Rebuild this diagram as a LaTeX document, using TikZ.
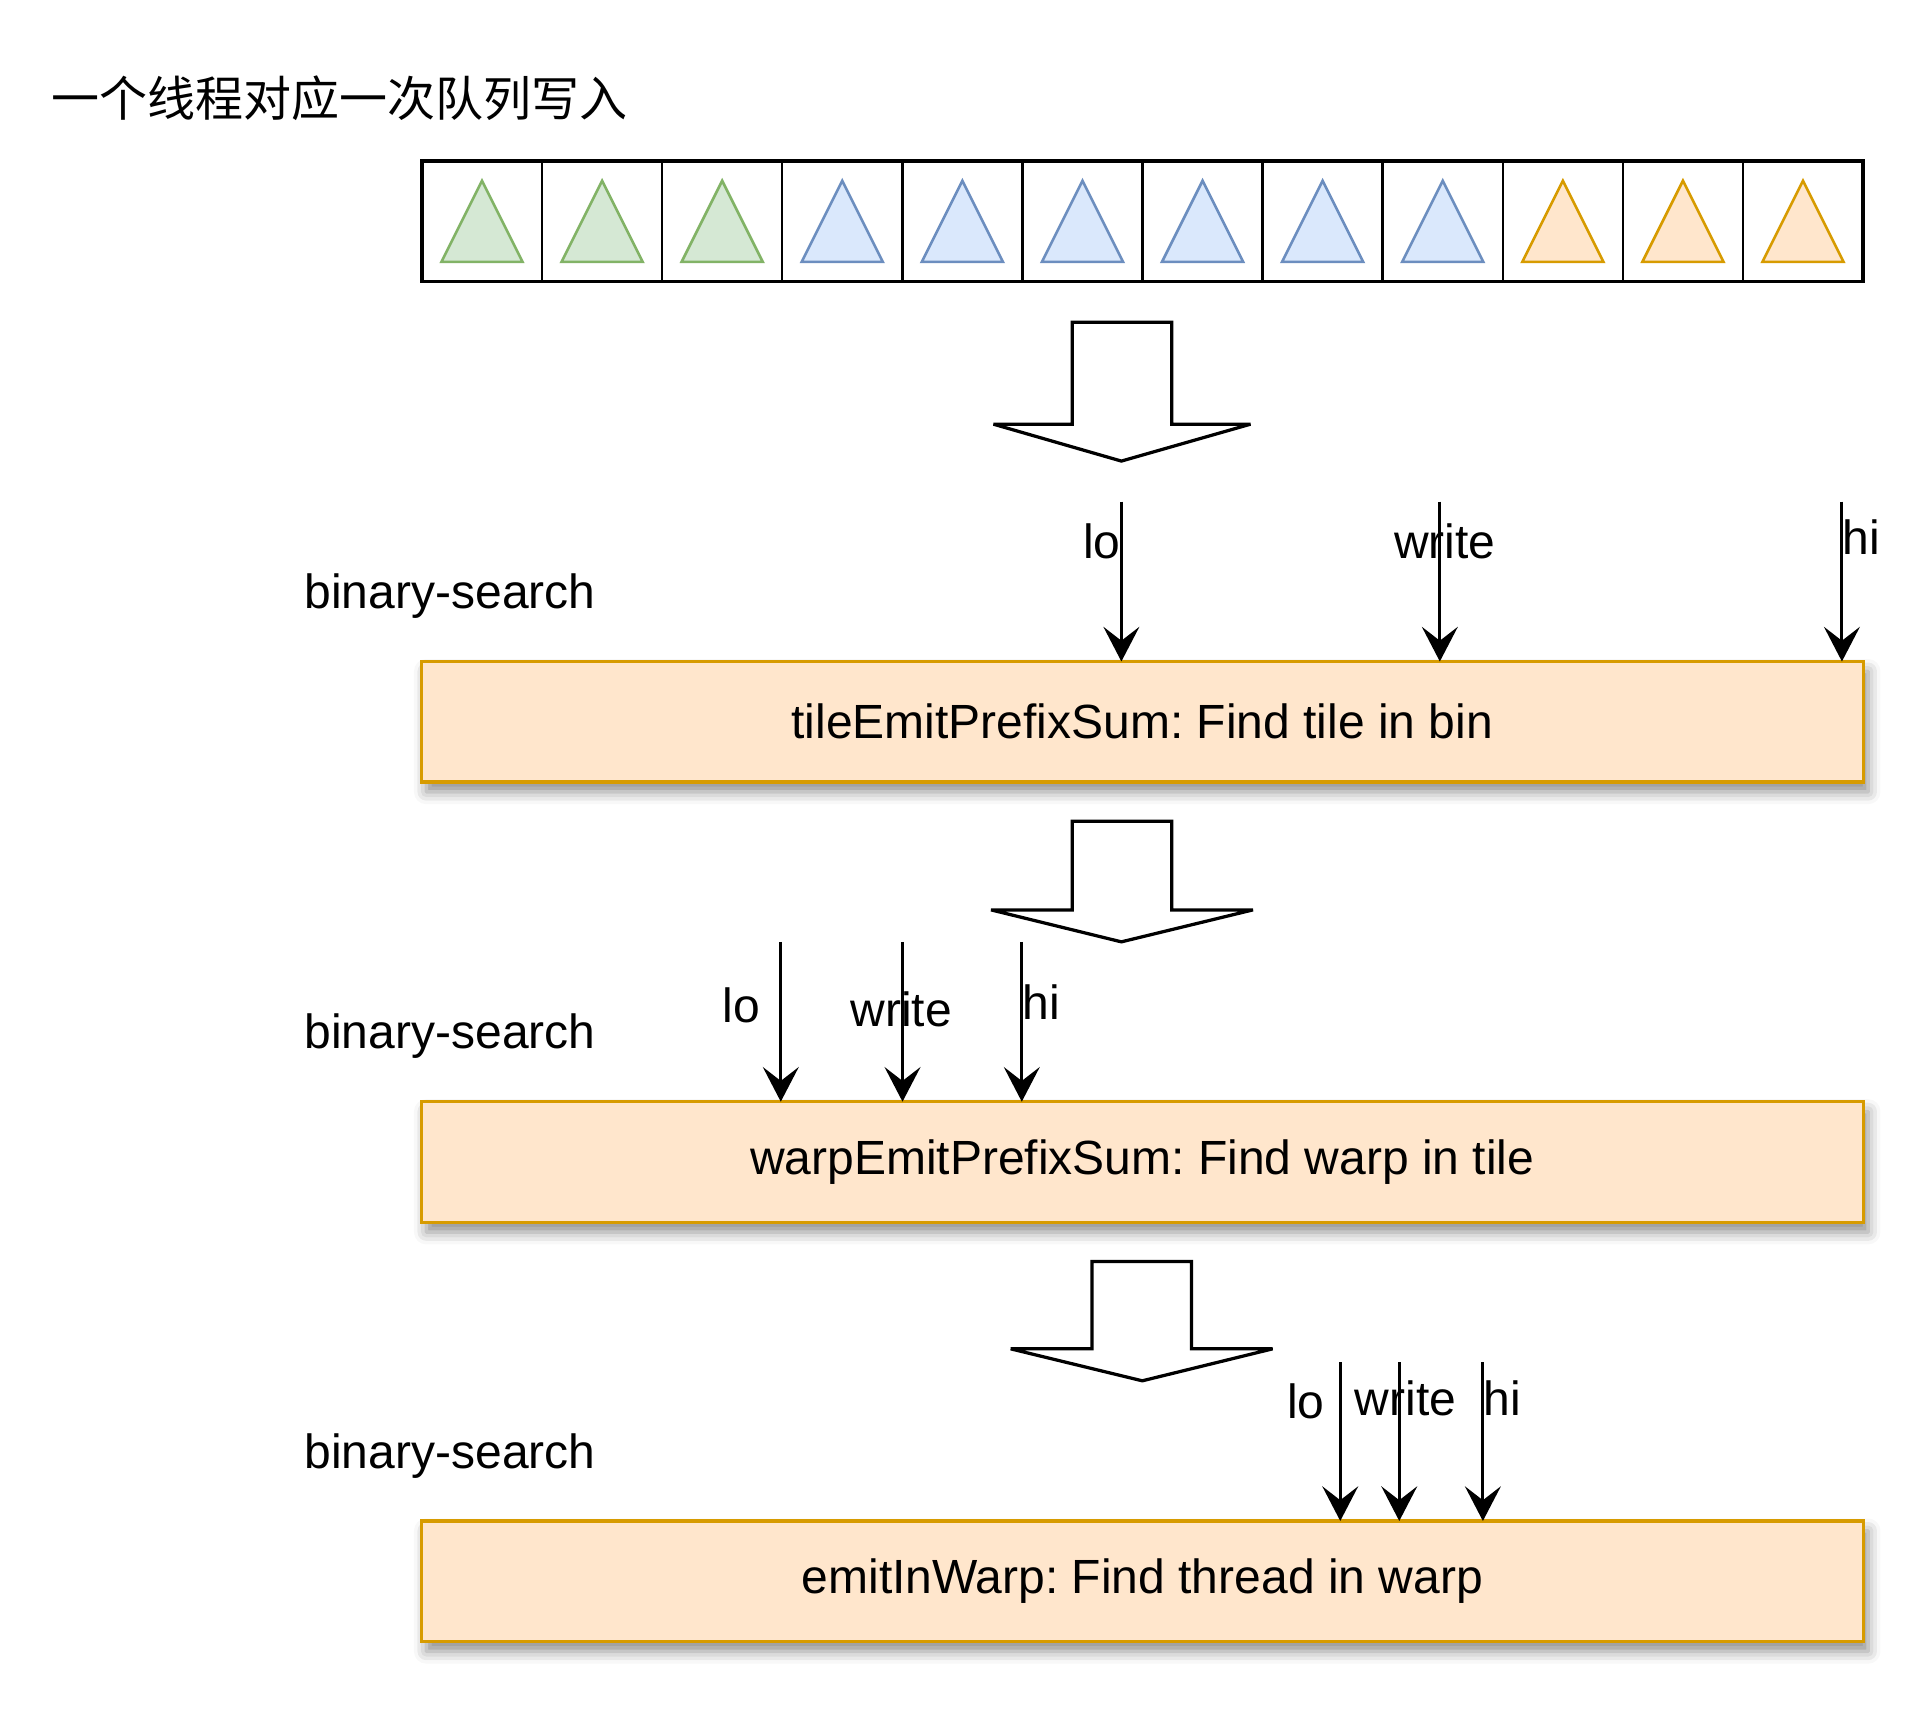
\documentclass[tikz,border=0pt]{standalone}
\usepackage{fontspec}
\setmainfont{Liberation Sans}
\newfontfamily\cjkfont{Noto Sans CJK SC}
\usepackage{tikz}
\usetikzlibrary{arrows.meta,positioning,shadows.blur}
\frenchspacing

\definecolor{greenstroke}{HTML}{82B366}
\definecolor{greenfill}{HTML}{D5E8D4}
\definecolor{bluestroke}{HTML}{6C8EBF}
\definecolor{bluefill}{HTML}{DAE8FC}
\definecolor{orangestroke}{HTML}{D79B00}
\definecolor{orangefill}{HTML}{FFE6CC}

\begin{document}
\begin{tikzpicture}
	[x=0.01cm,y=-0.01cm,>={Stealth[length=8pt,width=8.3pt,inset=3.2pt]},
	every node/.style={font=\fontsize{11.1pt}{13pt}\selectfont},
	cell/.style={draw,line width=0.55pt,inner sep=0pt,outer sep=0pt,minimum width=0.9767cm,minimum height=0.98cm},
	stage/.style={draw=orangestroke,fill=orangefill,line width=0.75pt,inner sep=0pt,outer sep=0pt,
		minimum width=11.72cm,minimum height=0.98cm,
		blur shadow={shadow xshift=0.04cm,shadow yshift=-0.08cm,shadow blur radius=0.1cm,shadow opacity=45}},
	hollow/.style={draw,fill=white,line width=0.75pt,line join=miter,miter limit=3},
	ptr/.style={->,line width=0.7pt}]

	\useasboundingbox (0,0) rectangle (1568,1392);

	\node [font=\cjkfont\fontsize{11.1pt}{13pt}\selectfont] (title) at (276,80) {一个线程对应一次队列写入};

	% queue of writes
	\foreach \col [count=\i from 0] in {green,green,green,blue,blue,blue,blue,blue,blue,orange,orange,orange} {
		\node [cell] (c\i) at ({392+97.67*\i},180) {};
		\draw [draw=\col stroke,fill=\col fill,line width=0.6pt] (c\i.center) ++(0,-33) -- ++(33,66) -- ++(-66,0) -- cycle;
	}
	\draw [line width=0.85pt] (c0.north west) rectangle (c11.south east);

	\draw [hollow] (872,262) -- (953,262) -- (953,345) -- (1017,345) -- (912,375) -- (808,345) -- (872,345) -- cycle;

	% tile in bin
	\node [stage] (tile) at (929,587) {tileEmitPrefixSum: Find tile in bin};
	\node (bs1) at (366,485) {binary-search};
	\coordinate (lo1) at (912,408);
	\coordinate (wr1) at (1171,408);
	\coordinate (hi1) at (1498,408);
	\draw [ptr] (lo1) -- (lo1 |- tile.north);
	\draw [ptr] (wr1) -- (wr1 |- tile.north);
	\draw [ptr] (hi1) -- (hi1 |- tile.north);
	\node (lo1l) at (896,440) {lo};
	\node (wr1l) at (1175,440) {write};
	\node (hi1l) at (1514,437) {hi};

	\draw [hollow] (872,668) -- (953,668) -- (953,740) -- (1019,740) -- (912,766) -- (806,740) -- (872,740) -- cycle;

	% warp in tile
	\node [stage] (warp) at (929,945) {warpEmitPrefixSum: Find warp in tile};
	\node (bs2) at (366,843) {binary-search};
	\coordinate (lo2) at (635,766);
	\coordinate (wr2) at (734,766);
	\coordinate (hi2) at (831,766);
	\draw [ptr] (lo2) -- (lo2 |- warp.north);
	\draw [ptr] (wr2) -- (wr2 |- warp.north);
	\draw [ptr] (hi2) -- (hi2 |- warp.north);
	\node (lo2l) at (603,818) {lo};
	\node (wr2l) at (733,821) {write};
	\node (hi2l) at (847,815) {hi};

	\draw [hollow] (888,1026) -- (969,1026) -- (969,1097) -- (1035,1097) -- (929,1123) -- (822,1097) -- (888,1097) -- cycle;

	% thread in warp
	\node [stage] (thread) at (929,1286) {emitInWarp: Find thread in warp};
	\node (bs3) at (366,1184) {binary-search};
	\coordinate (lo3) at (1090,1108);
	\coordinate (wr3) at (1138,1108);
	\coordinate (hi3) at (1206,1108);
	\draw [ptr] (lo3) -- (lo3 |- thread.north);
	\draw [ptr] (wr3) -- (wr3 |- thread.north);
	\draw [ptr] (hi3) -- (hi3 |- thread.north);
	\node (lo3l) at (1062,1140) {lo};
	\node (wr3l) at (1143,1137) {write};
	\node (hi3l) at (1222,1137) {hi};
\end{tikzpicture}
\end{document}
